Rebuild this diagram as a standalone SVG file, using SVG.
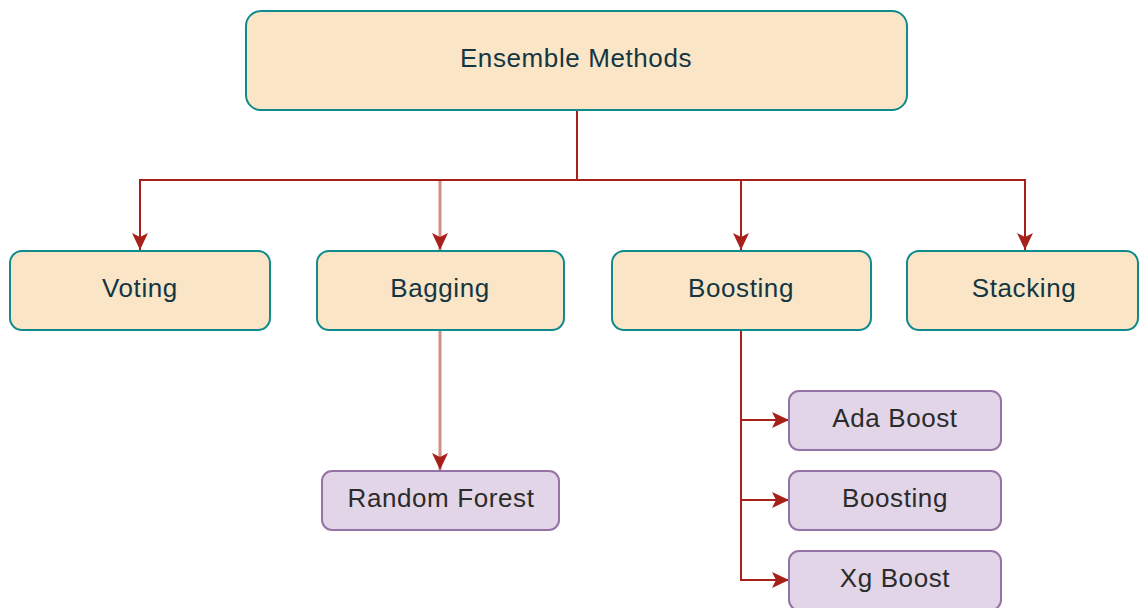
<svg xmlns="http://www.w3.org/2000/svg" width="1140" height="608" viewBox="0 0 1140 608">
  <style>
    .main rect { fill: #FAE5C7; stroke: #0F8B8D; stroke-width: 2; }
    .main text { fill: #143642; }
    .sub rect { fill: #E1D5E7; stroke: #9673A6; stroke-width: 2; }
    .sub text { fill: #2b2b2b; }
    text { font-family: "Liberation Sans", Arial, sans-serif; font-size: 26px; letter-spacing: 0.6px; text-anchor: middle; }
    .edge { fill: none; stroke: #A8201A; stroke-width: 2; }
    .faded { stroke-opacity: 0.5; stroke-width: 3; }
  </style>
  <defs>
    <marker id="arrow" markerUnits="userSpaceOnUse" markerWidth="17" markerHeight="16" viewBox="0 0 17 16" refX="17" refY="8" orient="auto">
      <path d="M0,0 L17,8 L0,16 L4,8 Z" fill="#A8201A"/>
    </marker>
  </defs>

  <!-- connectors -->
  <g id="connectors">
    <!-- Bagging branch: its trunk is shared with the other branches below -->
    <path class="edge faded" d="M440,181 V250" marker-end="url(#arrow)"/>
    <path class="edge" d="M577,110 V180 H140 V250" marker-end="url(#arrow)"/>
    <path class="edge" d="M577,110 V180 H741 V250" marker-end="url(#arrow)"/>
    <path class="edge" d="M577,110 V180 H1025 V250" marker-end="url(#arrow)"/>
    <path class="edge faded" d="M440,330 V470" marker-end="url(#arrow)"/>
    <path class="edge" d="M741,330 V420 H789" marker-end="url(#arrow)"/>
    <path class="edge" d="M741,330 V500 H789" marker-end="url(#arrow)"/>
    <path class="edge" d="M741,330 V580 H789" marker-end="url(#arrow)"/>
  </g>

  <!-- nodes -->
  <g id="ensemble-methods" class="main">
    <rect x="246" y="11" width="661" height="99" rx="15"/>
    <text x="576" y="67">Ensemble Methods</text>
  </g>
  <g id="voting" class="main">
    <rect x="10" y="251" width="260" height="79" rx="12"/>
    <text x="140" y="297">Voting</text>
  </g>
  <g id="bagging" class="main">
    <rect x="317" y="251" width="247" height="79" rx="12"/>
    <text x="440" y="297">Bagging</text>
  </g>
  <g id="boosting" class="main">
    <rect x="612" y="251" width="259" height="79" rx="12"/>
    <text x="741" y="297">Boosting</text>
  </g>
  <g id="stacking" class="main">
    <rect x="907" y="251" width="231" height="79" rx="12"/>
    <text x="1024" y="297">Stacking</text>
  </g>
  <g id="random-forest" class="sub">
    <rect x="322" y="471" width="237" height="59" rx="10"/>
    <text x="441" y="507">Random Forest</text>
  </g>
  <g id="ada-boost" class="sub">
    <rect x="789" y="391" width="212" height="59" rx="10"/>
    <text x="895" y="427">Ada Boost</text>
  </g>
  <g id="boosting-child" class="sub">
    <rect x="789" y="471" width="212" height="59" rx="10"/>
    <text x="895" y="507">Boosting</text>
  </g>
  <g id="xg-boost" class="sub">
    <rect x="789" y="551" width="212" height="59" rx="10"/>
    <text x="895" y="587">Xg Boost</text>
  </g>
</svg>
